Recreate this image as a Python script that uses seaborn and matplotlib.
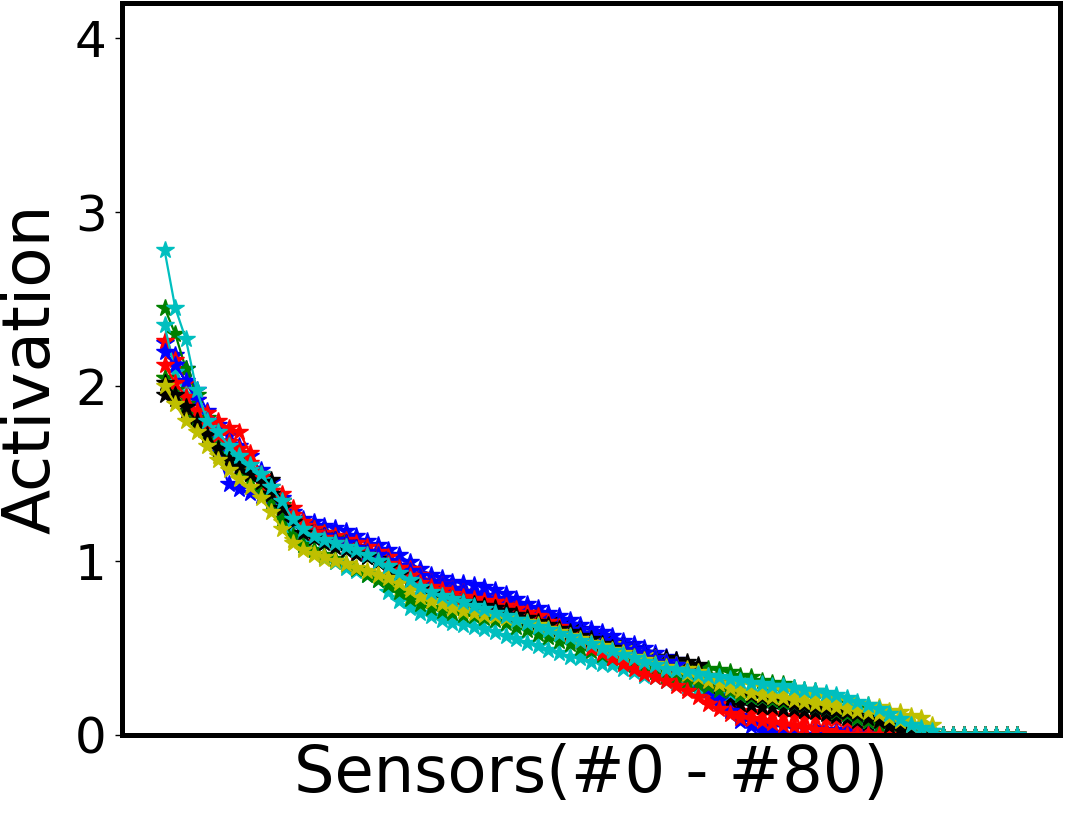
import matplotlib
matplotlib.use("Agg")
import matplotlib.pyplot as plt
import seaborn as sns
import numpy as np

sns.set_style("ticks")
plt.rcParams['font.family'] = ['DejaVu Sans']
plt.rcParams['text.color'] = 'black'
plt.rcParams['axes.labelcolor'] = 'black'
plt.rcParams['xtick.color'] = 'black'
plt.rcParams['ytick.color'] = 'black'

sensors = list(range(81))

b1 = [2.25, 2.18, 2.10, 1.98, 1.86, 1.78, 1.72, 1.66, 1.60, 1.52, 1.45,
      1.36, 1.28, 1.24, 1.22, 1.20, 1.19, 1.17, 1.14, 1.11, 1.09,
      1.06, 1.03, 0.99, 0.95, 0.92, 0.90, 0.88, 0.87, 0.86, 0.85,
      0.83, 0.81, 0.78, 0.75, 0.73, 0.70, 0.68, 0.66, 0.63, 0.61,
      0.59, 0.57, 0.54, 0.52, 0.50, 0.47, 0.45, 0.43, 0.40, 0.36,
      0.30, 0.22, 0.16, 0.11, 0.08, 0.06, 0.05, 0.05, 0.04, 0.04,
      0.04, 0.03, 0.03, 0.03, 0.02, 0.02, 0.0, 0.0, 0.0, 0.0,
      0.0, 0.0, 0.0, 0.0, 0.0, 0.0, 0.0, 0.0, 0.0, 0.0]
g1 = [2.45, 2.30, 2.10, 1.95, 1.82, 1.72, 1.64, 1.58, 1.52, 1.46, 1.40,
      1.32, 1.24, 1.20, 1.18, 1.16, 1.13, 1.10, 1.06, 1.02, 0.99,
      0.96, 0.93, 0.90, 0.88, 0.86, 0.84, 0.82, 0.80, 0.78, 0.77,
      0.75, 0.72, 0.70, 0.68, 0.66, 0.63, 0.61, 0.59, 0.57, 0.55,
      0.53, 0.51, 0.49, 0.47, 0.45, 0.43, 0.42, 0.41, 0.40, 0.39,
      0.38, 0.37, 0.36, 0.34, 0.33, 0.31, 0.30, 0.29, 0.27, 0.26,
      0.25, 0.23, 0.21, 0.19, 0.17, 0.15, 0.12, 0.09, 0.06, 0.03,
      0.0, 0.0, 0.0, 0.0, 0.0, 0.0, 0.0, 0.0, 0.0, 0.0]
r1 = [2.26, 2.15, 2.02, 1.92, 1.85, 1.80, 1.76, 1.74, 1.62, 1.50, 1.42,
      1.38, 1.30, 1.22, 1.18, 1.16, 1.14, 1.12, 1.10, 1.08, 1.05,
      1.02, 0.97, 0.95, 0.92, 0.88, 0.86, 0.84, 0.82, 0.80, 0.79,
      0.77, 0.75, 0.72, 0.70, 0.68, 0.66, 0.63, 0.60, 0.57, 0.54,
      0.51, 0.48, 0.45, 0.42, 0.39, 0.36, 0.33, 0.30, 0.27, 0.25,
      0.22, 0.18, 0.15, 0.14, 0.13, 0.12, 0.12, 0.11, 0.11, 0.10,
      0.10, 0.09, 0.09, 0.08, 0.06, 0.04, 0.02, 0.0, 0.0, 0.0,
      0.0, 0.0, 0.0, 0.0, 0.0, 0.0, 0.0, 0.0, 0.0, 0.0]
k1 = [1.95, 1.93, 1.86, 1.78, 1.70, 1.62, 1.56, 1.52, 1.50, 1.48, 1.46,
      1.34, 1.24, 1.19, 1.16, 1.14, 1.12, 1.10, 1.07, 1.04, 1.01,
      0.97, 0.93, 0.89, 0.85, 0.83, 0.81, 0.80, 0.79, 0.78, 0.77,
      0.76, 0.74, 0.72, 0.70, 0.68, 0.66, 0.64, 0.62, 0.60, 0.57,
      0.55, 0.53, 0.51, 0.49, 0.47, 0.45, 0.44, 0.43, 0.42, 0.40,
      0.34, 0.24, 0.20, 0.18, 0.17, 0.16, 0.16, 0.15, 0.15, 0.14,
      0.13, 0.12, 0.11, 0.10, 0.08, 0.07, 0.07, 0.06, 0.06, 0.04,
      0.02, 0.0, 0.0, 0.0, 0.0, 0.0, 0.0, 0.0, 0.0, 0.0]
y1 = [2.05, 1.98, 1.88, 1.80, 1.70, 1.60, 1.56, 1.52, 1.46, 1.40, 1.32,
      1.22, 1.12, 1.07, 1.03, 1.01, 0.99, 0.97, 0.95, 0.93, 0.91,
      0.88, 0.84, 0.80, 0.78, 0.77, 0.76, 0.75, 0.74, 0.73, 0.72,
      0.71, 0.70, 0.68, 0.66, 0.64, 0.63, 0.62, 0.60, 0.58, 0.56,
      0.54, 0.52, 0.50, 0.48, 0.46, 0.44, 0.42, 0.40, 0.38, 0.36,
      0.34, 0.32, 0.31, 0.30, 0.29, 0.28, 0.27, 0.26, 0.25, 0.24,
      0.23, 0.22, 0.21, 0.20, 0.18, 0.17, 0.16, 0.14, 0.13, 0.11,
      0.10, 0.06, 0.0, 0.0, 0.0, 0.0, 0.0, 0.0, 0.0, 0.0]
c1 = [2.35, 2.08, 1.95, 1.84, 1.76, 1.68, 1.62, 1.56, 1.52, 1.46, 1.38,
      1.28, 1.16, 1.10, 1.06, 1.02, 0.99, 0.96, 0.94, 0.92, 0.89,
      0.82, 0.77, 0.73, 0.70, 0.68, 0.66, 0.64, 0.63, 0.62, 0.61,
      0.59, 0.57, 0.55, 0.53, 0.51, 0.49, 0.47, 0.45, 0.44, 0.42,
      0.41, 0.40, 0.38, 0.36, 0.34, 0.33, 0.31, 0.30, 0.28, 0.27,
      0.26, 0.25, 0.24, 0.23, 0.22, 0.21, 0.20, 0.19, 0.18, 0.17,
      0.16, 0.15, 0.14, 0.12, 0.10, 0.08, 0.07, 0.06, 0.05, 0.04,
      0.03, 0.0, 0.0, 0.0, 0.0, 0.0, 0.0, 0.0, 0.0, 0.0]
b2 = [2.20, 2.12, 2.03, 1.92, 1.80, 1.62, 1.44, 1.41, 1.39, 1.37, 1.33,
      1.28, 1.22, 1.18, 1.16, 1.14, 1.12, 1.10, 1.07, 1.05, 1.03,
      1.00, 0.97, 0.94, 0.91, 0.88, 0.86, 0.84, 0.82, 0.81, 0.80,
      0.78, 0.76, 0.74, 0.72, 0.69, 0.67, 0.65, 0.63, 0.60, 0.58,
      0.56, 0.54, 0.51, 0.49, 0.47, 0.44, 0.42, 0.40, 0.36, 0.31,
      0.26, 0.20, 0.14, 0.08, 0.05, 0.02, 0.01, 0.0, 0.0, 0.0,
      0.0, 0.0, 0.0, 0.0, 0.0, 0.0, 0.0, 0.0, 0.0, 0.0,
      0.0, 0.0, 0.0, 0.0, 0.0, 0.0, 0.0, 0.0, 0.0, 0.0]
g2 = [2.05, 1.98, 1.90, 1.82, 1.74, 1.66, 1.58, 1.52, 1.46, 1.40, 1.34,
      1.24, 1.14, 1.09, 1.06, 1.03, 1.01, 0.98, 0.95, 0.92, 0.89,
      0.86, 0.82, 0.78, 0.75, 0.73, 0.71, 0.70, 0.69, 0.68, 0.67,
      0.66, 0.64, 0.62, 0.60, 0.58, 0.56, 0.54, 0.52, 0.50, 0.48,
      0.46, 0.44, 0.42, 0.40, 0.38, 0.36, 0.34, 0.33, 0.31, 0.29,
      0.28, 0.26, 0.25, 0.23, 0.22, 0.21, 0.20, 0.19, 0.18, 0.17,
      0.16, 0.15, 0.13, 0.12, 0.10, 0.08, 0.06, 0.04, 0.02, 0.0,
      0.0, 0.0, 0.0, 0.0, 0.0, 0.0, 0.0, 0.0, 0.0, 0.0]
r2 = [2.12, 2.02, 1.94, 1.86, 1.78, 1.72, 1.68, 1.64, 1.56, 1.48, 1.40,
      1.34, 1.26, 1.20, 1.16, 1.13, 1.10, 1.08, 1.05, 1.03, 1.00,
      0.98, 0.96, 0.91, 0.87, 0.85, 0.83, 0.81, 0.79, 0.78, 0.77,
      0.76, 0.74, 0.72, 0.70, 0.68, 0.65, 0.62, 0.58, 0.54, 0.50,
      0.47, 0.44, 0.41, 0.38, 0.35, 0.33, 0.31, 0.28, 0.25, 0.22,
      0.18, 0.15, 0.12, 0.10, 0.09, 0.08, 0.07, 0.06, 0.05, 0.04,
      0.03, 0.02, 0.01, 0.0, 0.0, 0.0, 0.0, 0.0, 0.0, 0.0,
      0.0, 0.0, 0.0, 0.0, 0.0, 0.0, 0.0, 0.0, 0.0, 0.0]
k2 = [2.02, 1.95, 1.88, 1.80, 1.72, 1.64, 1.58, 1.54, 1.50, 1.45, 1.38,
      1.30, 1.22, 1.16, 1.13, 1.10, 1.08, 1.06, 1.04, 1.02, 0.99,
      0.96, 0.92, 0.88, 0.84, 0.81, 0.79, 0.78, 0.76, 0.75, 0.74,
      0.73, 0.71, 0.69, 0.67, 0.65, 0.63, 0.61, 0.59, 0.57, 0.55,
      0.52, 0.50, 0.47, 0.45, 0.43, 0.41, 0.39, 0.37, 0.35, 0.33,
      0.31, 0.29, 0.27, 0.25, 0.23, 0.22, 0.21, 0.20, 0.18, 0.17,
      0.16, 0.15, 0.14, 0.13, 0.12, 0.10, 0.08, 0.05, 0.03, 0.01,
      0.0, 0.0, 0.0, 0.0, 0.0, 0.0, 0.0, 0.0, 0.0, 0.0]
y2 = [2.00, 1.90, 1.80, 1.74, 1.66, 1.58, 1.52, 1.47, 1.42, 1.36, 1.28,
      1.18, 1.10, 1.06, 1.04, 1.02, 1.00, 0.98, 0.96, 0.94, 0.92,
      0.90, 0.87, 0.83, 0.79, 0.77, 0.75, 0.73, 0.71, 0.70, 0.69,
      0.68, 0.67, 0.66, 0.65, 0.63, 0.61, 0.59, 0.57, 0.55, 0.53,
      0.51, 0.49, 0.47, 0.45, 0.43, 0.41, 0.39, 0.37, 0.35, 0.33,
      0.31, 0.29, 0.27, 0.25, 0.24, 0.23, 0.22, 0.21, 0.20, 0.19,
      0.18, 0.17, 0.16, 0.15, 0.14, 0.13, 0.12, 0.10, 0.08, 0.06,
      0.04, 0.02, 0.0, 0.0, 0.0, 0.0, 0.0, 0.0, 0.0, 0.0]
c2 = [2.78, 2.45, 2.27, 1.98, 1.80, 1.74, 1.66, 1.60, 1.55, 1.50, 1.42,
      1.34, 1.24, 1.18, 1.14, 1.12, 1.10, 1.08, 1.06, 1.03, 1.00,
      0.97, 0.93, 0.89, 0.85, 0.82, 0.80, 0.78, 0.76, 0.74, 0.72,
      0.70, 0.68, 0.66, 0.64, 0.62, 0.60, 0.58, 0.56, 0.54, 0.52,
      0.50, 0.48, 0.46, 0.44, 0.42, 0.40, 0.38, 0.37, 0.36, 0.35,
      0.34, 0.33, 0.32, 0.31, 0.30, 0.29, 0.28, 0.28, 0.27, 0.26,
      0.25, 0.24, 0.23, 0.21, 0.19, 0.17, 0.15, 0.12, 0.09, 0.06,
      0.04, 0.02, 0.0, 0.0, 0.0, 0.0, 0.0, 0.0, 0.0, 0.0]

series = [b1, g1, r1, k1, y1, c1, b2, g2, r2, k2, y2, c2]
colors = ['b', 'g', 'r', 'k', 'y', 'c', 'b', 'g', 'r', 'k', 'y', 'c']

y_ticks = [0, 1, 2, 3, 4]
x_label = "Sensors(#0 - #80)"
y_label = "Activation"

fig = plt.figure(figsize=(10.66, 8.30), dpi=100)
ax = fig.add_axes([0.1144, 0.1145, 0.8800, 0.8820])

for vals, col in zip(series, colors):
    sns.lineplot(x=sensors, y=vals, color=col, marker='*', markersize=13,
                 markeredgecolor=col, markeredgewidth=1.0, linewidth=1.6,
                 ax=ax, legend=False)

ax.set_ylim(0, 4.2)
ax.set_xlim(-4, 84)
ax.set_xticks([])
ax.set_yticks(y_ticks)
ax.set_yticklabels([str(t) for t in y_ticks])
ax.tick_params(axis='y', labelsize=36, length=5, width=1.0, pad=6,
               direction='out', colors='black')
ax.set_xlabel(x_label, fontsize=46, labelpad=6, color='black')
ax.set_ylabel(y_label, fontsize=47.5, labelpad=8, color='black')
for s in ax.spines.values():
    s.set_linewidth(3.6)
    s.set_color('black')
    s.set_visible(True)

fig.savefig("out.png", dpi=100)
